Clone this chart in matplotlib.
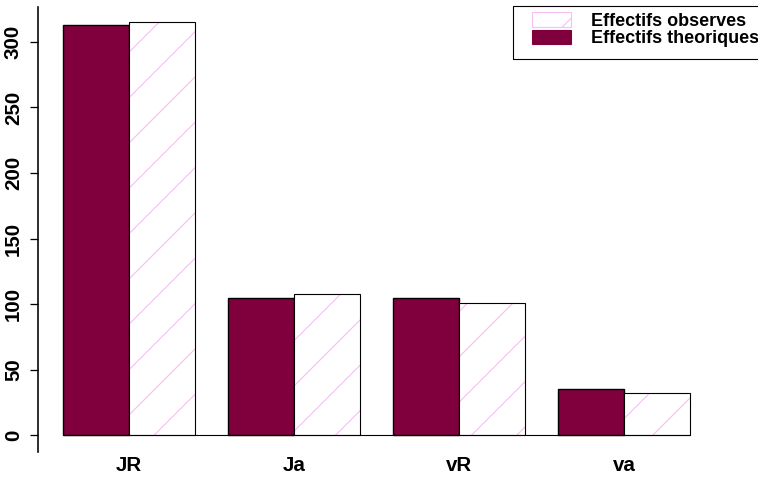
import numpy as np
import matplotlib
matplotlib.use("Agg")
import matplotlib.pyplot as plt
from matplotlib.patches import Patch, Rectangle

DPI = 136
PX = 72 / DPI  # points per pixel

plt.rcParams['font.family'] = ['Liberation Sans', 'DejaVu Sans']
plt.rcParams['font.weight'] = 'bold'
plt.rcParams['hatch.linewidth'] = 1.1 * PX

categories = ["JR", "Ja", "vR", "va"]
observes = [315, 108, 101, 32]
theoriques = [312.75, 104.25, 104.25, 34.75]
yticks = [0, 50, 100, 150, 200, 250, 300]

maroon = "#80003E"
pink = "#F7BDF5"

# the hatch pattern scales with dpi, so the figure is drawn at DPI
fig = plt.figure(figsize=(758 / DPI, 477 / DPI), dpi=DPI)
ax = fig.add_axes([0, 0, 1, 1])

width = 1.0
step = 2.5
x = np.arange(len(categories)) * step
left_theo = x
left_obs = x + width

ax.bar(left_theo, theoriques, width=width, align='edge', color=maroon,
       edgecolor='black', linewidth=1.4 * PX)
ax.bar(left_obs, observes, width=width, align='edge', color='white',
       edgecolor=pink, hatch='/', linewidth=0)
ax.bar(left_obs, observes, width=width, align='edge', fill=False,
       edgecolor='black', linewidth=1.1 * PX)
ax.hlines(0, left_theo.min(), (left_obs + width).max(), color='black',
          linewidth=1.1 * PX)

ax.set_xlim(-0.9545, 10.530)
ax.set_ylim(-32.06, 332.06)

for s in ['top', 'right', 'bottom']:
    ax.spines[s].set_visible(False)
ax.spines['left'].set_position(('data', -0.379))
ax.spines['left'].set_bounds(-13, 327)
ax.spines['left'].set_linewidth(1.6 * PX)
ax.spines['bottom'].set_position(('data', 0))

ax.set_yticks(yticks)
ax.set_yticklabels([str(v) for v in yticks], rotation=90, va='center',
                   fontsize=20.5 * PX)
ax.tick_params(axis='y', direction='out', length=8 * PX, width=1.3 * PX,
               pad=7 * PX)

ax.set_xticks(x + width)
ax.set_xticklabels(categories, fontsize=20.5 * PX)
ax.tick_params(axis='x', length=0, pad=21 * PX)

handles = [Patch(facecolor='white', edgecolor=pink, hatch='/', linewidth=1.1 * PX),
           Patch(facecolor=maroon, edgecolor=maroon, linewidth=1.1 * PX)]
ax.legend(handles, ["Effectifs observes", "Effectifs theoriques"],
          loc='upper left', bbox_to_anchor=(532 / 758, 1 - 12 / 477),
          bbox_transform=fig.transFigure, frameon=False, fontsize=18 * PX,
          borderpad=0, borderaxespad=0, handlelength=39 / 18,
          handleheight=16 / 18, handletextpad=20 / 18, labelspacing=0.0)
fig.patches.append(Rectangle((513 / 758, 1 - 59 / 477), 260 / 758, 53 / 477,
                             transform=fig.transFigure, fill=False,
                             edgecolor='black', linewidth=1.1 * PX))

fig.savefig("out.png", dpi=DPI)
